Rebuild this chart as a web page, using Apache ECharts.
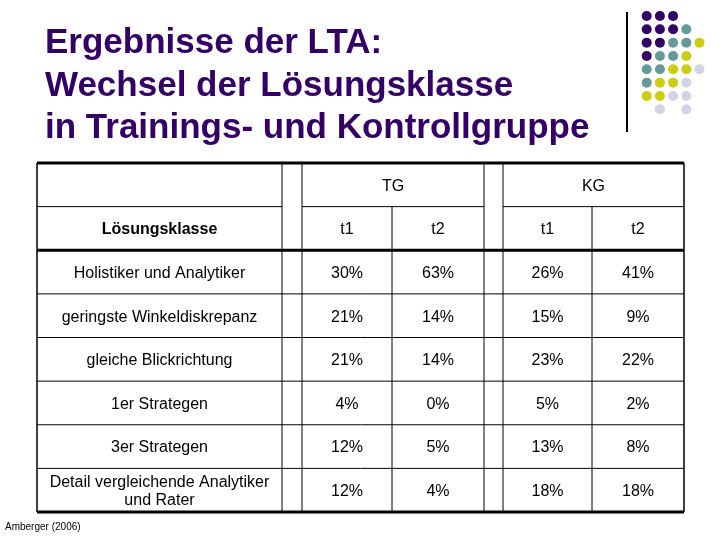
<!DOCTYPE html>
<html><head><meta charset="utf-8">
<script src="https://cdn.jsdelivr.net/npm/echarts@6/dist/echarts.min.js"></script>
<style>html,body{margin:0;padding:0;background:#fff}#c{width:720px;height:540px}</style>
</head><body><div id="c"></div>
<script>
// ---- data ----
const titleLines = ['Ergebnisse der LTA:', 'Wechsel der Lösungsklasse', 'in Trainings- und Kontrollgruppe'];
const rowHeader = 'Lösungsklasse';
const groups = ['TG', 'KG'];
const timeLabels = ['t1', 't2'];
const categories = ['Holistiker und Analytiker', 'geringste Winkeldiskrepanz', 'gleiche Blickrichtung',
  '1er Strategen', '3er Strategen', 'Detail vergleichende Analytiker\nund Rater'];
const tgT1 = [30, 21, 21, 4, 12, 12];
const tgT2 = [63, 14, 14, 0, 5, 4];
const kgT1 = [26, 15, 23, 5, 13, 18];
const kgT2 = [41, 9, 22, 2, 8, 18];
const source = 'Amberger (2006)';

// ---- layout ----
const colEdges = [0, 245, 265, 355, 447, 466, 555, 647];
const FONT = '"Liberation Sans", Arial, sans-serif';

const cells = [];
cells.push({ c0: 2, c1: 4, r: 0, t: groups[0] });
cells.push({ c0: 5, c1: 7, r: 0, t: groups[1] });
cells.push({ c0: 0, c1: 1, r: 1, t: rowHeader, bold: true });
cells.push({ c0: 2, c1: 3, r: 1, t: timeLabels[0] });
cells.push({ c0: 3, c1: 4, r: 1, t: timeLabels[1] });
cells.push({ c0: 5, c1: 6, r: 1, t: timeLabels[0] });
cells.push({ c0: 6, c1: 7, r: 1, t: timeLabels[1] });
const valueCols = [[2, tgT1], [3, tgT2], [5, kgT1], [6, kgT2]];
categories.forEach((cat, i) => {
  cells.push({ c0: 0, c1: 1, r: i + 2, t: cat });
  valueCols.forEach(([c, arr]) => cells.push({ c0: c, c1: c + 1, r: i + 2, t: arr[i] + '%' }));
});

const W = colEdges[colEdges.length - 1];
const nRows = categories.length + 2;
const borders = [];
borders.push([0, 0, W, 0, 3]);
borders.push([0, nRows, W, nRows, 3]);
borders.push([0, 2, W, 2, 3]);
borders.push([0, 1, colEdges[1], 1, 1]);
borders.push([colEdges[2], 1, colEdges[4], 1, 1]);
borders.push([colEdges[5], 1, W, 1, 1]);
for (let r = 3; r < nRows; r++) borders.push([0, r, W, r, 1]);
borders.push([0, 0, 0, nRows, 1.5]);
borders.push([W, 0, W, nRows, 1.5]);
[1, 2, 4, 5].forEach(c => borders.push([colEdges[c], 0, colEdges[c], nRows, 1]));
[3, 6].forEach(c => borders.push([colEdges[c], 1, colEdges[c], nRows, 1]));

// decorative dots
const P = '#330066', G = '#669999', Y = '#cccc11', L = '#d3d3e8';
const dotRows = [
  [P, P, P, null, null],
  [P, P, P, G, null],
  [P, P, G, G, Y],
  [P, G, G, Y, null],
  [G, G, Y, Y, L],
  [G, Y, Y, L, null],
  [Y, Y, L, L, null],
  [null, L, null, L, null]
];
const deco = [];
dotRows.forEach((row, ri) => row.forEach((col, ci) => {
  if (col) deco.push({ type: 'circle', shape: { cx: 646.7 + ci * 13.2, cy: 16 + ri * 13.33, r: 5 }, style: { fill: col }, silent: true });
}));
deco.push({ type: 'line', shape: { x1: 627, y1: 12, x2: 627, y2: 132 }, style: { stroke: '#000', lineWidth: 2 } });
titleLines.forEach((t, i) => deco.push({
  type: 'text', left: 45, top: 26 + i * 42.5,
  style: { text: t, font: 'bold 35px ' + FONT, fill: '#330066' }
}));
deco.push({ type: 'text', left: 5, top: 522, style: { text: source, font: '10px ' + FONT, fill: '#000' } });

const chart = echarts.init(document.getElementById('c'), null, { renderer: 'canvas' });
chart.setOption({
  animation: false,
  backgroundColor: '#fff',
  grid: { left: 37, top: 163, width: W, height: 349 },
  xAxis: { type: 'value', min: 0, max: W, show: false },
  yAxis: { type: 'value', min: 0, max: nRows, inverse: true, show: false },
  graphic: deco,
  series: [
    {
      type: 'custom', coordinateSystem: 'cartesian2d', silent: true,
      data: borders,
      renderItem: (params, api) => {
        const a = api.coord([api.value(0), api.value(1)]);
        const b = api.coord([api.value(2), api.value(3)]);
        return { type: 'line', shape: { x1: a[0], y1: a[1], x2: b[0], y2: b[1] }, style: { stroke: '#000', lineWidth: api.value(4) } };
      }
    },
    {
      type: 'custom', coordinateSystem: 'cartesian2d', silent: true,
      data: cells.map(c => [colEdges[c.c0], c.r, colEdges[c.c1], c.r + 1]),
      renderItem: (params, api) => {
        const c = cells[params.dataIndex];
        const a = api.coord([api.value(0), api.value(1)]);
        const b = api.coord([api.value(2), api.value(3)]);
        return {
          type: 'text',
          style: {
            text: c.t, x: (a[0] + b[0]) / 2, y: (a[1] + b[1]) / 2 + 1.5,
            align: 'center', verticalAlign: 'middle', lineHeight: 18,
            font: (c.bold ? 'bold ' : '') + '16px ' + FONT, fill: '#000'
          }
        };
      }
    }
  ]
});
</script></body></html>
